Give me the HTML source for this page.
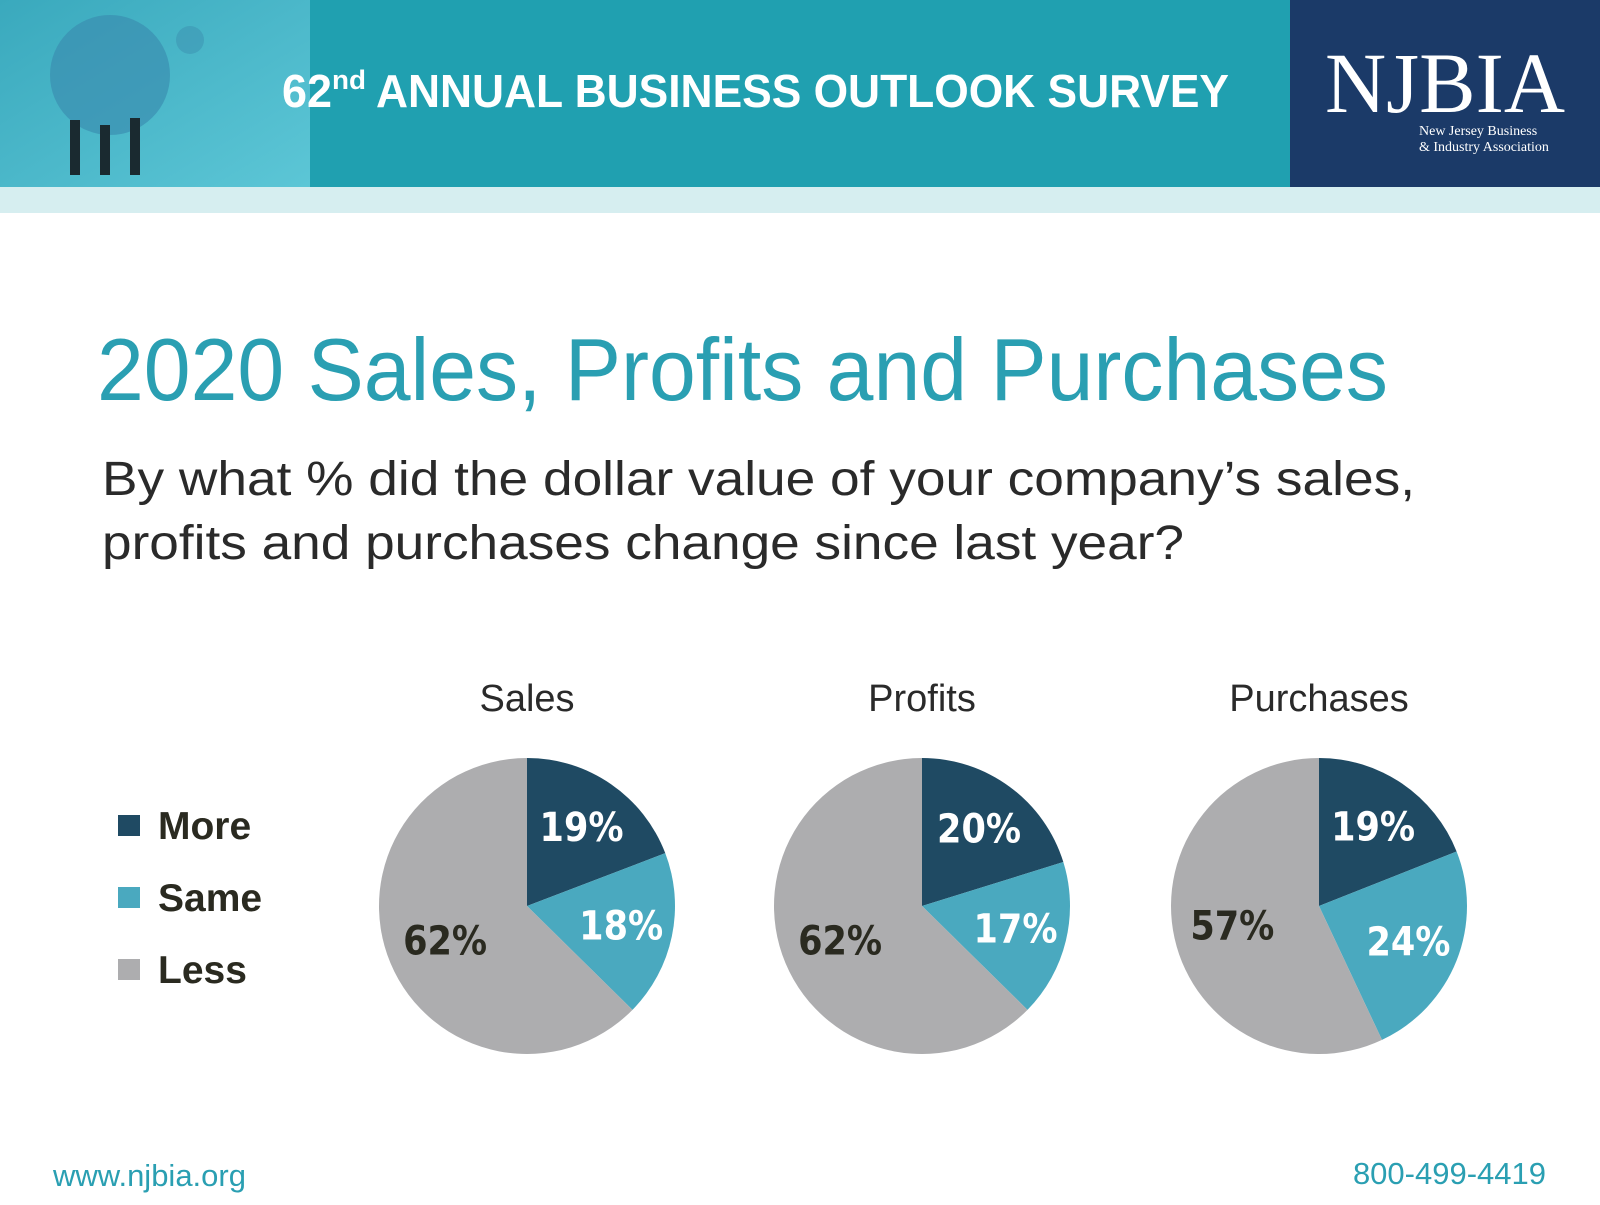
<!DOCTYPE html>
<html><head><meta charset="utf-8"><style>
body{margin:0;width:1600px;height:1200px;background:#fff;overflow:hidden;font-family:"Liberation Sans",sans-serif}
</style></head><body>
<svg width="1600" height="1200" viewBox="0 0 1600 1200" xmlns="http://www.w3.org/2000/svg">
<defs>
<linearGradient id="hg" x1="0" y1="0" x2="1" y2="1"><stop offset="0" stop-color="#3aa9bd"/><stop offset="1" stop-color="#5cc6d6"/></linearGradient>
</defs>
<rect x="0" y="0" width="1600" height="187" fill="#20a0b0"/>
<rect x="0" y="187" width="1600" height="26" fill="#d6eef0"/>
<g>
<rect x="0" y="0" width="310" height="187" fill="url(#hg)"/>
<circle cx="110" cy="75" r="60" fill="#3b8fb0" opacity="0.7"/>
<circle cx="190" cy="40" r="14" fill="#3b8fb0" opacity="0.5"/>
<rect x="70" y="120" width="10" height="55" fill="#1a2a30"/><rect x="100" y="125" width="10" height="50" fill="#1a2a30"/><rect x="130" y="118" width="10" height="57" fill="#1a2a30"/>
</g>
<g>
<text x="282" y="107" font-size="46" font-weight="bold" fill="#fff" textLength="50" lengthAdjust="spacingAndGlyphs">62</text>
<text x="332" y="89" font-size="27" font-weight="bold" fill="#fff" textLength="34" lengthAdjust="spacingAndGlyphs">nd</text>
<text x="376" y="107" font-size="46" font-weight="bold" fill="#fff" textLength="853" lengthAdjust="spacingAndGlyphs">ANNUAL BUSINESS OUTLOOK SURVEY</text>
</g>
<rect x="1290" y="0" width="310" height="187" fill="#1b3a68"/>
<text x="1325" y="112" font-family="Liberation Serif,serif" font-size="86" fill="#fff" textLength="240" lengthAdjust="spacingAndGlyphs">NJBIA</text>
<text x="1419" y="135" font-family="Liberation Serif,serif" font-size="14" fill="#fff">New Jersey Business</text>
<text x="1419" y="151" font-family="Liberation Serif,serif" font-size="14" fill="#fff">&amp; Industry Association</text>
<text x="97" y="400" font-size="88" fill="#2a9fb2" textLength="1291" lengthAdjust="spacingAndGlyphs">2020 Sales, Profits and Purchases</text>
<text x="102" y="495" font-size="48" fill="#2a2a2a" textLength="1313" lengthAdjust="spacingAndGlyphs">By what % did the dollar value of your company’s sales,</text>
<text x="102" y="559" font-size="48" fill="#2a2a2a" textLength="1082" lengthAdjust="spacingAndGlyphs">profits and purchases change since last year?</text>
<g id="legend"></g>
<g id="pies"></g>
<text x="53" y="1186" font-size="31" fill="#2a9fb2">www.njbia.org</text>
<text x="1546" y="1184" font-size="31" fill="#2a9fb2" text-anchor="end">800-499-4419</text>
</svg>
<script>
const charts = ["Sales", "Profits", "Purchases"];
const categories = ["More", "Same", "Less"];
const moreVals = [19, 20, 19];
const sameVals = [18, 17, 24];
const lessVals = [62, 62, 57];
const colors = ["#1f4a63", "#4aa9bf", "#adadaf"];
const labelColors = ["#fff", "#fff", "#2a2a20"];
const NS = "http://www.w3.org/2000/svg";
const cxs = [527, 922, 1319], cy = 906, R = 148;
function mk(t, a, p) { const e = document.createElementNS(NS, t); for (const k in a) e.setAttribute(k, a[k]); p.appendChild(e); return e; }
const pies = document.getElementById('pies');
charts.forEach((name, i) => {
  const vals = [moreVals[i], sameVals[i], lessVals[i]];
  const tot = vals.reduce((a, b) => a + b, 0);
  const cx = cxs[i];
  const g = mk('g', {}, pies);
  
  
  const t = mk('text', { x: cx, y: 711, 'font-size': 38, fill: '#2a2a2a', 'text-anchor': 'middle' }, g);
  t.textContent = name;
  
  
  let acc = 0;
  vals.forEach((v, j) => {
    const a0 = acc / tot * 2 * Math.PI, a1 = (acc + v) / tot * 2 * Math.PI;
    acc += v;
    const x0 = cx + R * Math.sin(a0), y0 = cy - R * Math.cos(a0);
    const x1 = cx + R * Math.sin(a1), y1 = cy - R * Math.cos(a1);
    const large = (a1 - a0) > Math.PI ? 1 : 0;
    const p = mk('path', { d: `M${cx},${cy} L${x0},${y0} A${R},${R} 0 ${large} 1 ${x1},${y1} Z`, fill: colors[j] }, g);
    
    
    const am = (a0 + a1) / 2, lr = j === 2 ? 0.6 : 0.65;
    const lx = cx + R * lr * Math.sin(am), ly = cy - R * lr * Math.cos(am);
    const l = mk('text', { x: lx, y: ly + 14, 'font-size': 40, 'font-weight': 'bold', fill: labelColors[j], 'text-anchor': 'middle', 'font-family': '"DejaVu Sans","Liberation Sans",sans-serif', textLength: 84, lengthAdjust: 'spacingAndGlyphs' }, g);
    l.textContent = v + '%';
    
    
  });
});
const lg = document.getElementById('legend');
categories.forEach((c, j) => {
  const y = 815 + j * 72;
  const r = mk('rect', { x: 118, y: y, width: 22, height: 21, fill: colors[j] }, lg);
  
  
  const t = mk('text', { x: 158, y: y + 24, 'font-size': 39, 'font-weight': 'bold', fill: '#2a2a20' }, lg);
  t.textContent = c;
  
  
});
</script>
</body></html>
